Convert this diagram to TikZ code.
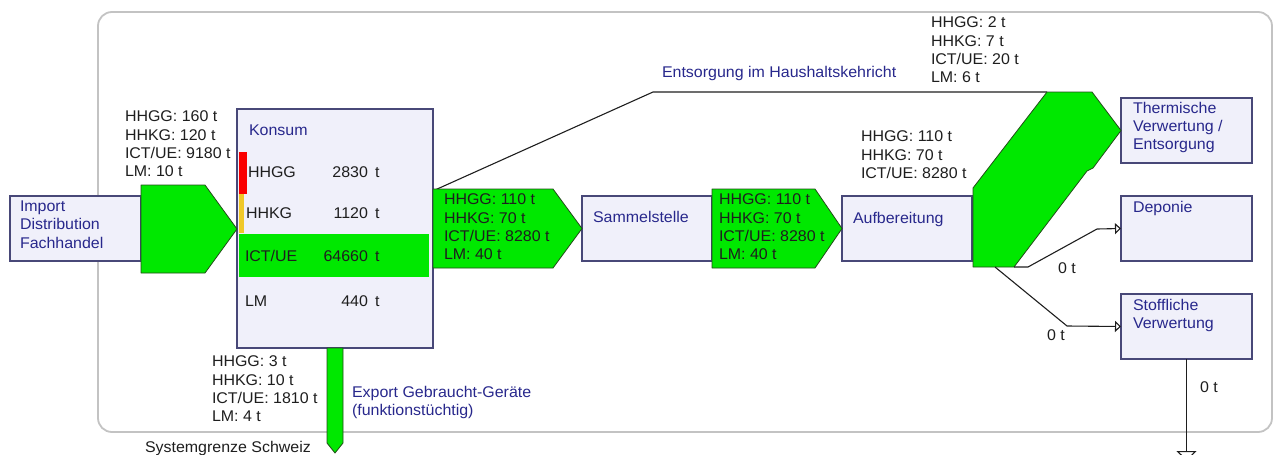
\documentclass[tikz,border=0pt]{standalone}
\usepackage{fontspec}
\setmainfont{Liberation Sans}[FakeStretch=1.03]
\usetikzlibrary{arrows.meta}
\definecolor{flowgreen}{RGB}{0,232,0}
\definecolor{flowline}{RGB}{35,75,25}
\definecolor{boxfill}{RGB}{240,240,250}
\definecolor{boxline}{RGB}{72,72,120}
\definecolor{textblue}{RGB}{40,40,140}
\definecolor{textdark}{RGB}{30,30,30}
\definecolor{bordergray}{RGB}{195,195,195}
\definecolor{barred}{RGB}{250,0,0}
\definecolor{baryellow}{RGB}{240,200,40}
\begin{document}
\begin{tikzpicture}[x=1pt,y=-1pt,
  every node/.style={font=\fontsize{15.5}{18.3}\selectfont, text=textdark, inner sep=0pt, outer sep=0pt},
  box/.style={rectangle, draw=boxline, fill=boxfill, line width=1.3pt, anchor=north west},
  flow/.style={fill=flowgreen, draw=flowline, line width=0.8pt, line join=round},
  lbl/.style={anchor=north west, align=left},
  one/.style={anchor=base west},
  num/.style={anchor=base east},
  blue/.style={text=textblue},
  thin/.style={draw=textdark, line width=1.1pt},
  tip/.style={-{Triangle[open, length=6pt, width=11pt, fill=white]}},
  bigtip/.style={-{Triangle[open, length=10pt, width=20pt, fill=white]}}
]
\useasboundingbox (0,0) rectangle (1274,455);
% system boundary
\draw[bordergray, line width=1.8pt, rounded corners=14pt] (98,12) rectangle (1272,432);

% boxes
\node[box, minimum width=131pt, minimum height=65pt] (imp) at (10,196) {};
\node[box, minimum width=196pt, minimum height=239pt] (konsum) at (237,109) {};
\node[box, minimum width=130pt, minimum height=65pt] (sammel) at (582,196) {};
\node[box, minimum width=130pt, minimum height=65pt] (aufb) at (842,196) {};
\node[box, minimum width=131pt, minimum height=65pt] (therm) at (1121,98) {};
\node[box, minimum width=131pt, minimum height=65pt] (depo) at (1121,196) {};
\node[box, minimum width=131pt, minimum height=65pt] (stoff) at (1121,294) {};

% Konsum inner bars
\fill[barred] (239,152) rectangle (247,194);
\fill[baryellow] (239,194) rectangle (244,233);
\fill[flowgreen] (239,234) rectangle (429,277);

% thin flow: Haushaltskehricht
\coordinate (hk0) at (435,190);
\coordinate (hk1) at (653,92);
\coordinate (hk2) at (1047,92);
\draw[thin] (hk0) -- (hk1) -- (hk2);

% green flows
\draw[flow] (141,185) -- (205,185) -- (konsum.west |- 0,229) -- (205,273) -- (141,273) -- cycle;
\draw[flow] (433,189) -- (553,189) -- (sammel.west) -- (553,268) -- (433,268) -- cycle;
\draw[flow] (712,189) -- (815,189) -- (aufb.west) -- (815,268) -- (712,268) -- cycle;
\draw[flow] (973,188) -- (1047,92) -- (1092,92) -- (therm.west) -- (1093,168) -- (1087,171) -- (1014,267) -- (973,267) -- cycle;
\draw[flow] (327,348) -- (343,348) -- (343,443) -- (335,453) -- (327,443) -- cycle;

% thin connectors with open heads
\coordinate (d0) at (1014,267);
\coordinate (d1) at (1028,267);
\coordinate (d2) at (1097,229);
\draw[thin, tip] (d0) -- (d1) -- (d2) -- (depo.west);
\coordinate (s0) at (995,267);
\coordinate (s1) at (1067,326);
\draw[thin, tip] (s0) -- (s1) -- (stoff.west);
\coordinate (out) at (1186.5,461);
\draw[thin, bigtip] (stoff.south) -- (out);

% texts
\node[lbl, blue] (impt) at (20,201) {Import\\Distribution\\Fachhandel};
\node[lbl] (in1) at (125,111) {HHGG: 160 t\\HHKG: 120 t\\ICT/UE: 9180 t\\LM: 10 t};
\node[one, blue] (kt) at (249,135) {Konsum};
\node[one] (r1) at (248,177) {HHGG};
\node[num] (n1) at (368,177) {2830};
\node[one] (t1) at (375,177) {t};
\node[one] (r2) at (246,218) {HHKG};
\node[num] (n2) at (368,218) {1120};
\node[one] (t2) at (375,218) {t};
\node[one] (r3) at (245,261) {ICT/UE};
\node[num] (n3) at (368,261) {64660};
\node[one] (t3) at (375,261) {t};
\node[one] (r4) at (245,306) {LM};
\node[num] (n4) at (368,306) {440};
\node[one] (t4) at (375,306) {t};
\node[lbl] (f2) at (444,194) {HHGG: 110 t\\HHKG: 70 t\\ICT/UE: 8280 t\\LM: 40 t};
\node[lbl] (f3) at (719,194) {HHGG: 110 t\\HHKG: 70 t\\ICT/UE: 8280 t\\LM: 40 t};
\node[one, blue] (st) at (593,222) {Sammelstelle};
\node[one, blue] (at) at (853,223) {Aufbereitung};
\node[one, blue] (hkt) at (662,77) {Entsorgung im Haushaltskehricht};
\node[lbl] (hkv) at (931,17) {HHGG: 2 t\\HHKG: 7 t\\ICT/UE: 20 t\\LM: 6 t};
\node[lbl] (tv) at (861,131) {HHGG: 110 t\\HHKG: 70 t\\ICT/UE: 8280 t};
\node[lbl, blue] (tht) at (1133,102) {Thermische\\Verwertung /\\Entsorgung};
\node[one, blue] (dt) at (1133,212) {Deponie};
\node[lbl, blue] (sft) at (1133,299) {Stoffliche\\Verwertung};
\node[one] (z1) at (1058,273) {0 t};
\node[one] (z2) at (1047,340) {0 t};
\node[one] (z3) at (1200,392) {0 t};
\node[lbl] (ex) at (212,356) {HHGG: 3 t\\HHKG: 10 t\\ICT/UE: 1810 t\\LM: 4 t};
\node[lbl, blue] (ext) at (352,386) {Export Gebraucht-Geräte\\(funktionstüchtig)};
\node[one] (sg) at (145,452) {Systemgrenze Schweiz};
\end{tikzpicture}
\end{document}
